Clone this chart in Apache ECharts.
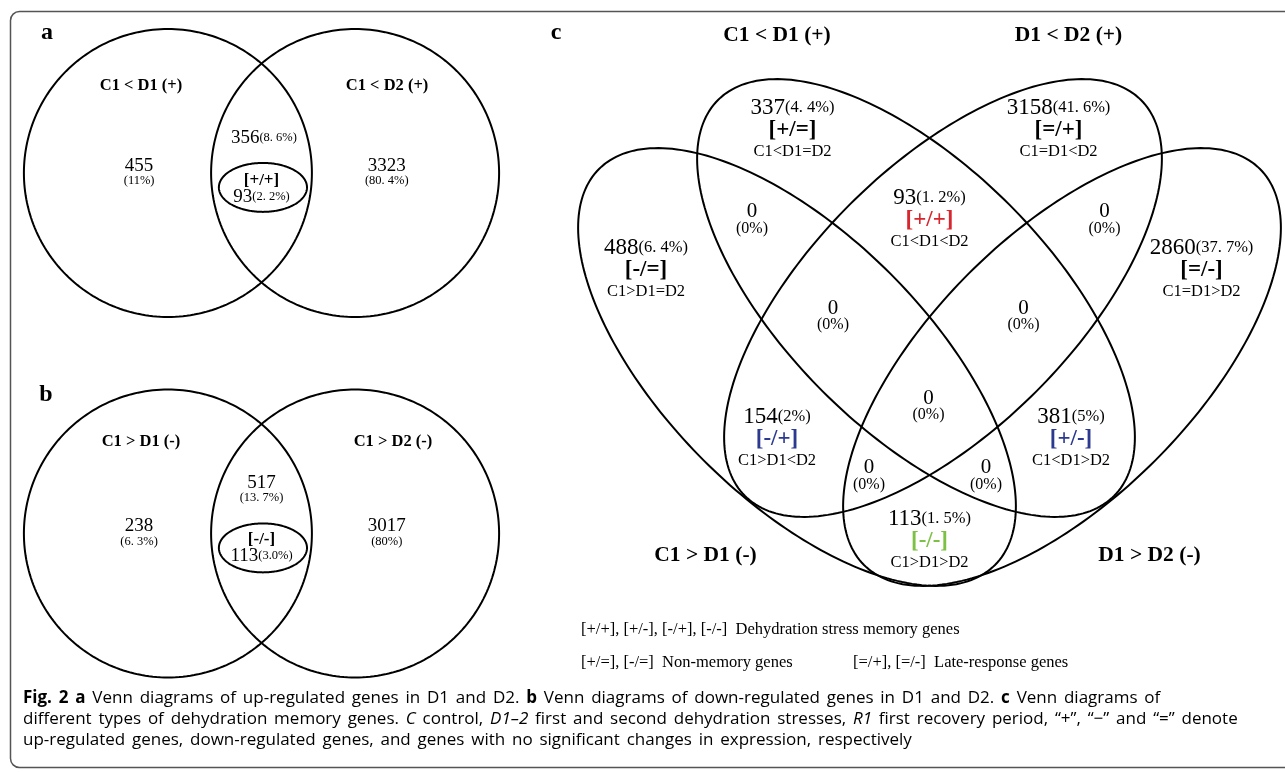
<!DOCTYPE html>
<html>
<head>
<meta charset="utf-8">
<script src="https://cdn.jsdelivr.net/npm/echarts@6.0.0/dist/echarts.min.js"></script>
<style>
  html, body { margin: 0; padding: 0; background: #fff; }
  #chart { width: 1285px; height: 772px; }
</style>
</head>
<body>
<div id="chart"></div>
<script>
// ---------------- DATA ----------------
// Panel a: up-regulated genes
const aSetNames = ['C1 < D1 (+)', 'C1 < D2 (+)'];
const aCounts = [455, 356, 3323, 93];            // D1 only, D1&D2, D2 only, [+/+]
const aPcts = ['11%', '8. 6%', '80. 4%', '2. 2%'];
const aCodes = ['', '', '', '[+/+]'];
// Panel b: down-regulated genes
const bSetNames = ['C1 > D1 (-)', 'C1 > D2 (-)'];
const bCounts = [238, 517, 3017, 113];
const bPcts = ['6. 3%', '13. 7%', '80%', '3.0%'];
const bCodes = ['', '', '', '[-/-]'];
// Panel c: memory gene types
const cSetNames = ['C1 < D1 (+)', 'D1 < D2 (+)', 'C1 > D1 (-)', 'D1 > D2 (-)'];
const cCounts = [337, 3158, 93, 0, 0, 488, 2860, 0, 0, 0, 154, 381, 0, 0, 113];
const cPcts = ['4. 4%', '41. 6%', '1. 2%', '0%', '0%', '6. 4%', '37. 7%', '0%', '0%', '0%', '2%', '5%', '0%', '0%', '1. 5%'];
const cCodes = ['[+/=]', '[=/+]', '[+/+]', '', '', '[-/=]', '[=/-]', '', '', '', '[-/+]', '[+/-]', '', '', '[-/-]'];
const cRelations = ['C1<D1=D2', 'C1=D1<D2', 'C1<D1<D2', '', '', 'C1>D1=D2', 'C1=D1>D2', '', '', '', 'C1>D1<D2', 'C1<D1>D2', '', '', 'C1>D1>D2'];
const legendLines = [
  '[+/+], [+/-], [-/+], [-/-]  Dehydration stress memory genes',
  '[+/=], [-/=]  Non-memory genes',
  '[=/+], [=/-]  Late-response genes'
];
const panelLetters = ['a', 'b', 'c'];
// Caption: [style, text] runs; b = bold, i = italic, t = plain
const captionRuns = [
  [['b', 'Fig. 2'], ['t', ' '], ['b', 'a'], ['t', ' Venn diagrams of up-regulated genes in D1 and D2. '], ['b', 'b'], ['t', ' Venn diagrams of down-regulated genes in D1 and D2. '], ['b', 'c'], ['t', ' Venn diagrams of']],
  [['t', 'different types of dehydration memory genes. '], ['i', 'C'], ['t', ' control, '], ['i', 'D1–2'], ['t', ' first and second dehydration stresses, '], ['i', 'R1'], ['t', ' first recovery period, “+”, “−” and “=” denote']],
  [['t', 'up-regulated genes, down-regulated genes, and genes with no significant changes in expression, respectively']]
];

// ---------------- LAYOUT (geometry in each panel's own axis units) ----------------
const abShapes = [[-0.65, 0, 1, 1, 0], [0.65, 0, 1, 1, 0], [0.01, -0.10, 0.306, 0.17, 0]];
const aSetPos = [[-0.837, 0.604], [0.872, 0.604]];
const bSetPos = [[-0.837, 0.635], [0.913, 0.635]];
const aRegionPos = [[-0.85, 0.0], [0.017, 0.243], [0.87, 0.0], [0.0, -0.108]];
const bRegionPos = [[-0.85, 0.0], [0.0, 0.302], [0.87, 0.0], [0.0, -0.097]];
const cShapes = [[-1.325, -0.69, 2.8, 1.32, -45], [-0.135, 0, 2.8, 1.32, -45], [0.135, 0, 2.8, 1.32, 45], [1.325, -0.69, 2.8, 1.32, 45]];
const cSetPos = [[-1.525, 2.63], [1.39, 2.63], [-2.24, -2.57], [2.2, -2.57]];
const cRegionPos = [[-1.37, 1.68], [1.29, 1.68], [0, 0.78], [-1.775, 0.78], [1.75, 0.78],
  [-2.835, 0.28], [2.72, 0.28], [-0.965, -0.185], [0.94, -0.185], [-0.01, -1.085],
  [-1.525, -1.41], [1.415, -1.41], [-0.605, -1.78], [0.565, -1.78], [0, -2.43]];

// ---------------- STYLE ----------------
const SERIF = '"Liberation Serif", "DejaVu Serif", serif';
const SANS = '"Open Sans", sans-serif';
const INK = '#000';
const codeColor = { '[+/+]': '#d7262e', '[-/+]': '#2b3990', '[+/-]': '#2b3990', '[-/-]': '#7cc143' };
const noBorder = { textBorderWidth: 0, textBorderColor: 'transparent', textShadowBlur: 0 };

function ellipseRender(params, api) {
  const cx = api.value(0), cy = api.value(1), a = api.value(2), b = api.value(3);
  const rot = api.value(4) * Math.PI / 180;
  const pts = [];
  for (let i = 0; i < 240; i++) {
    const t = i / 240 * 2 * Math.PI;
    const x = cx + a * Math.cos(t) * Math.cos(rot) - b * Math.sin(t) * Math.sin(rot);
    const y = cy + a * Math.cos(t) * Math.sin(rot) + b * Math.sin(t) * Math.cos(rot);
    pts.push(api.coord([x, y]));
  }
  return { type: 'polygon', shape: { points: pts }, style: { fill: 'none', stroke: '#000', lineWidth: 2 }, silent: true };
}
function shapeSeries(idx, shapes) {
  return { type: 'custom', xAxisIndex: idx, yAxisIndex: idx, data: shapes, renderItem: ellipseRender, clip: false, silent: true, z: 2 };
}
function labelSeries(idx, pos, texts, rich) {
  return {
    type: 'scatter', xAxisIndex: idx, yAxisIndex: idx, symbolSize: 0, silent: true, z: 5,
    itemStyle: { color: '#000', opacity: 1 },
    data: pos.map((p, i) => ({ value: p, label: { formatter: texts[i] } })),
    label: Object.assign({ show: true, position: 'inside', align: 'center', verticalAlign: 'middle', rich: rich, fontFamily: SERIF, color: INK, opacity: 1 }, noBorder)
  };
}
function R(o) { return Object.assign({ color: INK }, noBorder, o); }
const abRich = {
  s: R({ fontFamily: SERIF, fontWeight: 'bold', fontSize: 16.5 }),
  n: R({ fontFamily: SERIF, fontSize: 19, lineHeight: 16 }),
  p: R({ fontFamily: SERIF, fontSize: 12.5, lineHeight: 14 }),
  c: R({ fontFamily: SERIF, fontWeight: 'bold', fontSize: 17, lineHeight: 17 })
};
function abTexts(counts, pcts, codes, twoLineLens) {
  return counts.map((n, i) => {
    if (codes[i]) return '{c|' + codes[i] + '}\n{n|' + n + '}{p|(' + pcts[i] + ')}';
    if (i === 1 && !twoLineLens) return '{n|' + n + '}{p|(' + pcts[i] + ')}';
    return '{n|' + n + '}\n{p|(' + pcts[i] + ')}';
  });
}
const codeFont = { fontFamily: SERIF, fontWeight: 'bold', fontSize: 23, lineHeight: 22 };
const cRich = {
  s: R({ fontFamily: SERIF, fontWeight: 'bold', fontSize: 21.5 }),
  n: R({ fontFamily: SERIF, fontSize: 23, lineHeight: 22 }),
  p: R({ fontFamily: SERIF, fontSize: 16.5, lineHeight: 22 }),
  c: R(codeFont),
  cr: R(Object.assign({}, codeFont, { color: codeColor['[+/+]'] })),
  cb: R(Object.assign({}, codeFont, { color: codeColor['[-/+]'] })),
  cg: R(Object.assign({}, codeFont, { color: codeColor['[-/-]'] })),
  r: R({ fontFamily: SERIF, fontSize: 16.5, lineHeight: 22 }),
  z: R({ fontFamily: SERIF, fontSize: 21, lineHeight: 17 }),
  zp: R({ fontFamily: SERIF, fontSize: 16, lineHeight: 17 })
};
const codeStyle = { '[+/+]': 'cr', '[-/+]': 'cb', '[+/-]': 'cb', '[-/-]': 'cg' };
const cTexts = cCounts.map((n, i) => {
  if (!cCodes[i]) return '{z|' + n + '}\n{zp|(' + cPcts[i] + ')}';
  return '{n|' + n + '}{p|(' + cPcts[i] + ')}\n{' + (codeStyle[cCodes[i]] || 'c') + '|' + cCodes[i] + '}\n{r|' + cRelations[i] + '}';
});

const U = 144; // px per unit in panels a/b
const UC = 100; // px per unit in panel c
const grids = [
  { left: 261.5 - 1.6 * U, top: 173 - 1.1 * U, width: 3.2 * U, height: 2.2 * U },
  { left: 261.5 - 1.6 * U, top: 533.5 - 1.1 * U, width: 3.2 * U, height: 2.2 * U },
  { left: 929.5 - 3.65 * UC, top: 298 - 2.8 * UC, width: 7.2 * UC, height: 5.8 * UC }
];
const xRanges = [[-1.6, 1.6], [-1.6, 1.6], [-3.65, 3.55]];
const yRanges = [[-1.1, 1.1], [-1.1, 1.1], [-3.0, 2.8]];

const capBase = { fontFamily: SANS, fontSize: 17, lineHeight: 20, color: '#231f20' };
const captionRich = {
  b: Object.assign({}, capBase, { fontWeight: 'bold' }),
  t: Object.assign({}, capBase),
  i: Object.assign({}, capBase, { fontStyle: 'italic' }),
  w: Object.assign({}, capBase, { width: 6.8 })
};
function captionText(runs) {
  return runs.map(([st, txt]) => txt.split(' ').map(w => w ? '{' + st + '|' + w + '}' : '').join('{w| }')).join('');
}

const chart = echarts.init(document.getElementById('chart'));
chart.setOption({
  backgroundColor: '#fff',
  animation: false,
  grid: grids,
  xAxis: xRanges.map((r, i) => ({ type: 'value', gridIndex: i, min: r[0], max: r[1], show: false })),
  yAxis: yRanges.map((r, i) => ({ type: 'value', gridIndex: i, min: r[0], max: r[1], show: false })),
  graphic: [
    { type: 'rect', shape: { x: 10.5, y: 11.5, width: 1300, height: 756, r: 9 }, style: { fill: 'none', stroke: '#555', lineWidth: 1.5 }, silent: true },
    { type: 'text', x: 47, y: 33, style: { text: panelLetters[0], font: 'bold 24px ' + SERIF, fill: INK, align: 'center', verticalAlign: 'middle' } },
    { type: 'text', x: 46, y: 395, style: { text: panelLetters[1], font: 'bold 24px ' + SERIF, fill: INK, align: 'center', verticalAlign: 'middle' } },
    { type: 'text', x: 556, y: 33, style: { text: panelLetters[2], font: 'bold 24px ' + SERIF, fill: INK, align: 'center', verticalAlign: 'middle' } },
    { type: 'text', x: 581, y: 630, style: { text: legendLines[0], font: '16.5px ' + SERIF, fill: INK, verticalAlign: 'middle' } },
    { type: 'text', x: 581, y: 663, style: { text: legendLines[1], font: '16.5px ' + SERIF, fill: INK, verticalAlign: 'middle' } },
    { type: 'text', x: 853, y: 663, style: { text: legendLines[2], font: '16.5px ' + SERIF, fill: INK, verticalAlign: 'middle' } },
    { type: 'text', x: 23, y: 698, style: { text: captionText(captionRuns[0]), rich: captionRich, verticalAlign: 'middle' } },
    { type: 'text', x: 23, y: 719, style: { text: captionText(captionRuns[1]), rich: captionRich, verticalAlign: 'middle' } },
    { type: 'text', x: 23, y: 740, style: { text: captionText(captionRuns[2]), rich: captionRich, verticalAlign: 'middle' } }
  ],
  series: [
    shapeSeries(0, abShapes),
    shapeSeries(1, abShapes),
    shapeSeries(2, cShapes),
    labelSeries(0, aSetPos, aSetNames.map(s => '{s|' + s + '}'), abRich),
    labelSeries(1, bSetPos, bSetNames.map(s => '{s|' + s + '}'), abRich),
    labelSeries(0, aRegionPos, abTexts(aCounts, aPcts, aCodes, false), abRich),
    labelSeries(1, bRegionPos, abTexts(bCounts, bPcts, bCodes, true), abRich),
    labelSeries(2, cSetPos, cSetNames.map(s => '{s|' + s + '}'), cRich),
    labelSeries(2, cRegionPos, cTexts, cRich)
  ]
});
</script>
</body>
</html>
